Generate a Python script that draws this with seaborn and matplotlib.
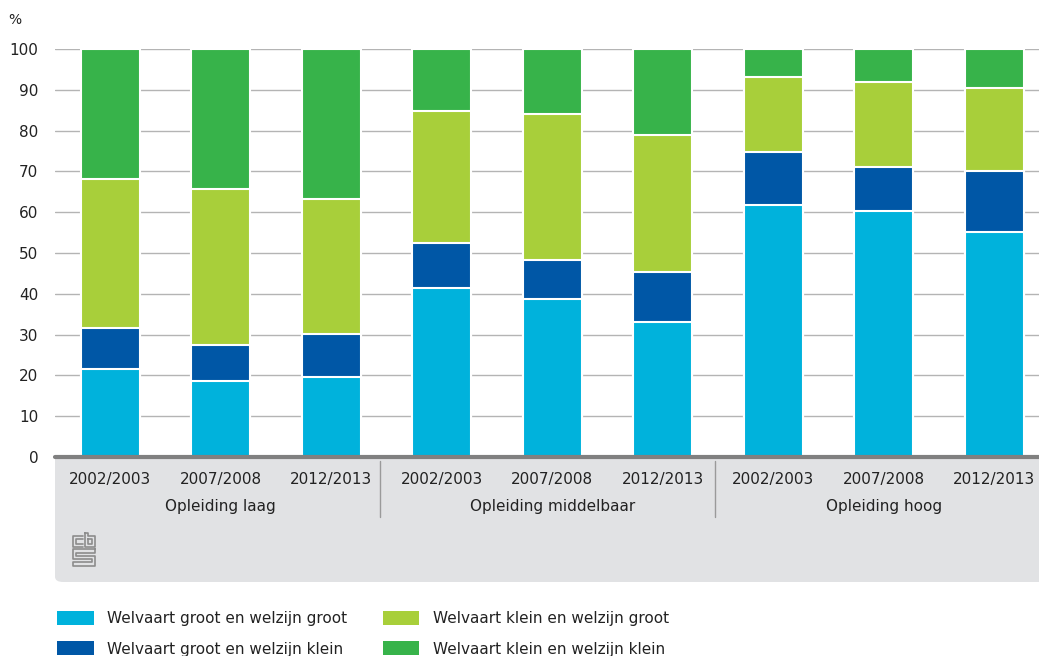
import matplotlib.pyplot as plt
import matplotlib.patches as mpatches
import numpy as np
import pandas as pd
import seaborn as sns

# data (%)
groups = ['Opleiding laag', 'Opleiding middelbaar', 'Opleiding hoog']
years = ['2002/2003', '2007/2008', '2012/2013']
series = ['Welvaart groot en welzijn groot', 'Welvaart groot en welzijn klein',
          'Welvaart klein en welzijn groot', 'Welvaart klein en welzijn klein']
colors = ['#00b2dc', '#0057a6', '#a8cf3a', '#37b34a']

groot_groot = [21.5, 18.7, 19.6, 41.3, 38.8, 33.1, 61.7, 60.2, 55.1]
groot_klein = [10.0, 8.7, 10.6, 11.2, 9.5, 12.2, 13.1, 11.0, 15.0]
klein_groot = [36.6, 38.2, 33.0, 32.3, 35.7, 33.6, 18.4, 20.8, 20.3]
klein_klein = [31.9, 34.4, 36.8, 15.2, 16.0, 21.1, 6.8, 8.0, 9.6]

bars = [f'{g} {y}' for g in groups for y in years]
df = pd.DataFrame({'bar': bars})
stack = np.cumsum([groot_groot, groot_klein, klein_groot, klein_klein], axis=0)
for i, s in enumerate(series):
    df[s] = stack[i]

sns.set_theme(style='white')
plt.rcParams['font.family'] = ['DejaVu Sans']
txt = '#222222'

W, H = 1039, 656
fig = plt.figure(figsize=(W / 100, H / 100), dpi=100)
ax = fig.add_axes([55 / W, (H - 457) / H, 984 / W, 408 / H])

# grey box under the axis
box = mpatches.FancyBboxPatch((55 / W, (H - 582) / H), 1000 / W, 150 / H,
                              boxstyle='round,pad=0,rounding_size=0.008',
                              transform=fig.transFigure, facecolor='#e1e2e4',
                              edgecolor='none', zorder=-1)
fig.patches.append(box)

# stacked bars: draw cumulative totals, tallest first
for s, c in reversed(list(zip(series, colors))):
    sns.barplot(data=df, x='bar', y=s, order=bars, color=c, saturation=1,
                width=0.53, edgecolor='white', linewidth=1.5, errorbar=None, ax=ax)

ax.set_xlim(-0.5, -0.5 + 984 / 110.5)
ax.set_ylim(0, 100)
ax.set_yticks(range(0, 101, 10))
ax.yaxis.grid(True, color='#b4b4b4', linewidth=1.0)
ax.set_axisbelow(True)
ax.axhline(0, color='#808080', linewidth=3, clip_on=False, zorder=5)
for sp in ax.spines.values():
    sp.set_visible(False)
ax.set_xlabel('')
ax.set_ylabel('')
ax.set_xticks(range(9))
ax.set_xticklabels(years * 3)
ax.tick_params(axis='x', length=0, pad=11, labelsize=11, labelcolor=txt)
ax.tick_params(axis='y', length=0, pad=12, labelsize=11, labelcolor=txt)

# group labels and separators
tr = ax.get_xaxis_transform()
for i, g in enumerate(groups):
    ax.text(3 * i + 1, -(507 - 457) / 408, g, transform=tr, ha='center',
            va='center', fontsize=11, color=txt)
for xs in [2.44, 5.47]:
    ax.plot([xs, xs], [-(461 - 457) / 408, -(517 - 457) / 408], transform=tr,
            color='#9a9a9a', linewidth=1, clip_on=False)

fig.text(15 / W, 1 - 20 / H, '%', ha='center', va='center', fontsize=10, color=txt)

# small cbs logo
lx, ly = 73, 533
logo = [
    [(10, 3), (0, 3), (0, 14), (10, 14)],
    [(10, 6), (3, 6), (3, 11), (10, 11)],
    [(12, 0), (12, 14), (22, 14), (22, 3), (15, 3), (15, 0), (12, 0)],
    [(15, 6), (19, 6), (19, 11), (15, 11), (15, 6)],
    [(22, 16), (0, 16), (0, 26), (19, 26), (19, 29), (0, 29), (0, 33), (22, 33),
     (22, 23), (3, 23), (3, 20), (22, 20), (22, 16)],
]
for path in logo:
    xs = [(lx + p[0]) / W for p in path]
    ys = [1 - (ly + p[1]) / H for p in path]
    fig.add_artist(plt.Line2D(xs, ys, transform=fig.transFigure,
                              color='#8c8c8c', linewidth=1.2))

handles = [mpatches.Patch(facecolor=c, edgecolor='none', label=s)
           for s, c in zip(series, colors)]
fig.legend(handles=handles, loc='upper left', bbox_to_anchor=(57 / W, 1 - 611 / H),
           ncol=2, frameon=False, fontsize=11, borderpad=0, borderaxespad=0,
           handlelength=2.4, handleheight=1.05, handletextpad=0.9,
           labelspacing=0.98, columnspacing=2.3, labelcolor=txt)

fig.savefig('out.png', dpi=100)
